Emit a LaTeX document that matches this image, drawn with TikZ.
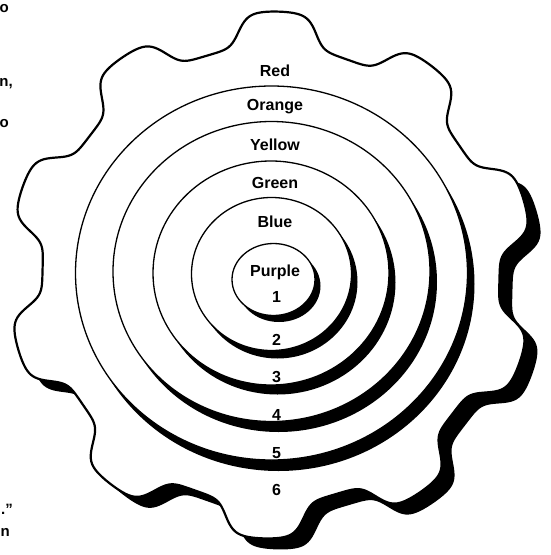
\documentclass[tikz,border=0pt]{standalone}
\usepackage{fontspec}
\setmainfont{Liberation Sans}

\begin{document}
\begin{tikzpicture}[x=1pt,y=-1pt,
  declare function={gearr(\x)=246+17.5*tanh(2.1*cos(10*(\x-88.5)))/tanh(2.1);},
  lbl/.style={font=\bfseries\fontsize{16}{18}\selectfont,inner sep=0pt},
  cutoff/.style={font=\bfseries\fontsize{15}{17}\selectfont,anchor=east,inner sep=0pt}]
  \useasboundingbox (0,0) rectangle (550,555);
  \clip (0,0) rectangle (550,555);
  % shadow of the cog
  \begin{scope}
    \clip (0,168) rectangle (550,555);
    \fill plot[samples=721,domain=0:360] ({284+gearr(\x)*cos(\x)},{286-gearr(\x)*sin(\x)}) -- cycle;
  \end{scope}
  \draw[line width=2.2pt,line join=round,fill=white] plot[samples=721,domain=0:360] ({271+gearr(\x)*cos(\x)},{275-gearr(\x)*sin(\x)}) -- cycle;
  % rings, outer to inner, each with its shadow
  \foreach \cx/\cy/\rx/\ry/\dx/\dy in {271.5/273/196/187/7/11, 271.5/271.5/158.5/150/7/10.5,
      271/273/118/112/6.5/9.5, 271.5/274/80/76.5/6/8, 273.5/279.5/41.5/36/5.5/6.5} {
    \fill ({\cx+\dx},{\cy+\dy}) ellipse [x radius=\rx, y radius=\ry];
    \filldraw[fill=white,line width=1.3pt] (\cx,\cy) ellipse [x radius=\rx, y radius=\ry];
  }
  % colour names and numbers
  \foreach \name/\y in {Red/71, Orange/107, Yellow/145, Green/183, Blue/222, Purple/272}
    \node[lbl] (\name) at (275,\y) {\name};
  \foreach \num/\y in {1/297, 2/340, 3/377, 4/415, 5/453, 6/490}
    \node[lbl] (n\num) at (276.5,\y) {\num};
  % text cut off at the left edge
  \node[cutoff] (frag1) at (9,9) {o};
  \node[cutoff] (frag2) at (13,84) {n,};
  \node[cutoff] (frag3) at (9,124) {o};
  \node[cutoff] (frag4) at (13,509) {.''};
  \node[cutoff] (frag5) at (10,532) {n};
\end{tikzpicture}
\end{document}
